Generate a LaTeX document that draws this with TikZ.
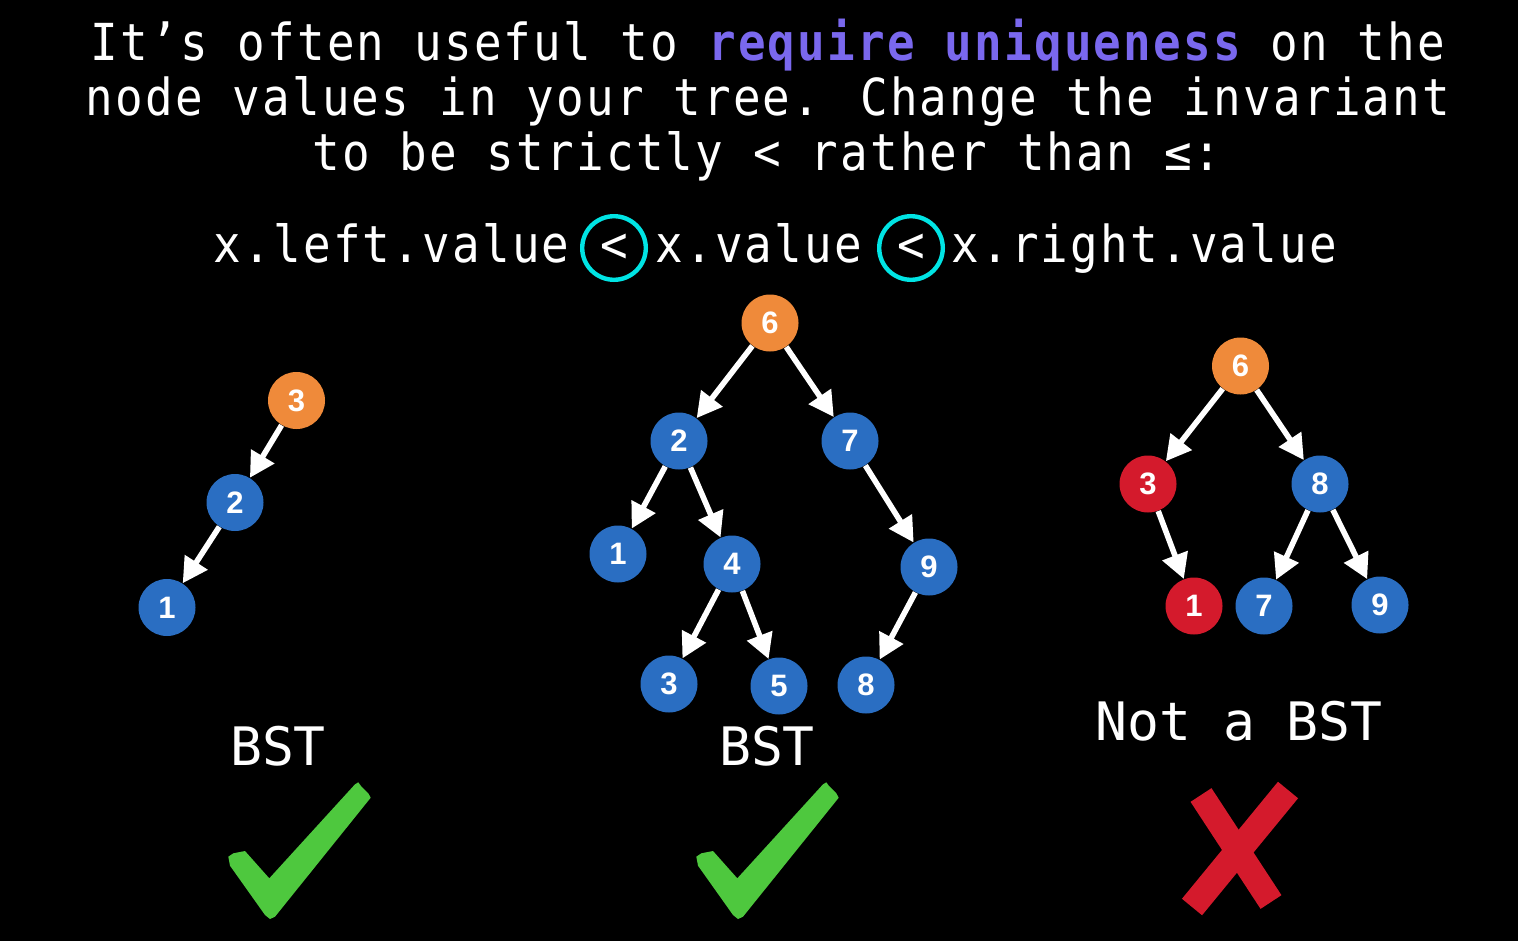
\documentclass[tikz,border=0pt]{standalone}
\usepackage{fontspec}
\usetikzlibrary{arrows.meta}
\newfontfamily\monoc[FakeStretch=0.9,LetterSpace=4.3]{DejaVu Sans Mono}
\newfontfamily\monon{DejaVu Sans Mono}
\newfontfamily\helv{Liberation Sans}
\definecolor{orng}{RGB}{239,138,58}
\definecolor{blu}{RGB}{42,110,194}
\definecolor{rd}{RGB}{212,26,44}
\definecolor{grn}{RGB}{78,200,62}
\definecolor{purp}{RGB}{122,104,238}
\definecolor{cyn}{RGB}{0,228,228}
\tikzset{
 tn/.style={circle, minimum size=28.5pt, inner sep=0pt, text=white, font=\helv\bfseries\fontsize{15.5}{17}\selectfont},
 ob/.style={tn, fill=orng}, bb/.style={tn, fill=blu}, rb/.style={tn, fill=rd},
 edgearrow/.style={draw=white, line width=2.8pt, -{Triangle[length=12.5pt,width=13pt]}},
 titletext/.style={text=white, inner sep=0pt, font=\monoc\fontsize{25.5}{28}\selectfont},
 lbl/.style={text=white, anchor=base, inner sep=0pt, font=\monon\fontsize{26.5}{30}\selectfont},
 ring/.style={draw=cyn, line width=2.2pt, circle, minimum size=31.8pt, inner sep=0pt, text=white, font=\monoc\fontsize{25.5}{28}\selectfont},
}
\begin{document}
\begin{tikzpicture}[x=0.5pt,y=-0.5pt]
\fill[black] (0,0) rectangle (1518,941);
\useasboundingbox (0,0) rectangle (1518,941);
% title
\node[titletext, anchor=base] (t1) at (768,61) {It’s often useful to {\color{purp}\bfseries require uniqueness} on the};
\node[titletext, anchor=base] (t2) at (768,116) {node values in your tree. Change the invariant};
\node[titletext, anchor=base] (t3) at (767,171) {to be strictly < rather than ≤:};
% formula
\node[titletext, anchor=base east] (f1) at (570,262) {x.left.value};
\node[ring] (r1) at (614,248) {<};
\node[titletext, anchor=base west] (f2) at (655,262) {x.value};
\node[ring] (r2) at (911,248) {<};
\node[titletext, anchor=base west] (f3) at (951,262) {x.right.value};
% tree 1
\node[ob] (a3) at (296.5,400.5) {3};
\node[bb] (a2) at (235,502.5) {2};
\node[bb] (a1) at (167,607.5) {1};
\draw[edgearrow] (a3) -- (a2);
\draw[edgearrow] (a2) -- (a1);
% tree 2
\node[ob] (b6) at (770,323) {6};
\node[bb] (b2) at (679,441) {2};
\node[bb] (b7) at (850,441) {7};
\node[bb] (b1) at (618,554) {1};
\node[bb] (b4) at (732,564) {4};
\node[bb] (b9) at (929,567) {9};
\node[bb] (b3) at (669,684) {3};
\node[bb] (b5) at (779,686) {5};
\node[bb] (b8) at (866,685) {8};
\draw[edgearrow] (b6) -- (b2);
\draw[edgearrow] (b6) -- (b7);
\draw[edgearrow] (b2) -- (b1);
\draw[edgearrow] (b2) -- (b4);
\draw[edgearrow] (b4) -- (b3);
\draw[edgearrow] (b4) -- (b5);
\draw[edgearrow] (b7) -- (b9);
\draw[edgearrow] (b9) -- (b8);
% tree 3
\node[ob] (c6) at (1240.5,366) {6};
\node[rb] (c3) at (1148,484) {3};
\node[bb] (c8) at (1320,484) {8};
\node[rb] (c1) at (1194,606) {1};
\node[bb] (c7) at (1264,606) {7};
\node[bb] (c9) at (1380,605) {9};
\draw[edgearrow] (c6) -- (c3);
\draw[edgearrow] (c6) -- (c8);
\draw[edgearrow] (c3) -- (c1);
\draw[edgearrow] (c8) -- (c7);
\draw[edgearrow] (c8) -- (c9);
% labels
\node[lbl] (l1) at (278,765) {BST};
\node[lbl] (l2) at (767,765) {BST};
\node[lbl] (l3) at (1239,740) {Not a BST};
% check marks
\foreach \dx in {0,468}{
\fill[grn, xshift=\dx*0.5pt] (228.3,856.7) -- (233.3,853.3) -- (245,851) -- (269.3,878.3) -- (355,784.3) -- (358.3,782.3) -- (361,786) -- (368.3,793.3) -- (370.7,797.7) -- (275,916.7) -- (270,919) -- (265,915) -- (230,865.7) -- cycle;
}
% cross
\draw[rd, line width=13pt] (1288,790) -- (1192,907);
\draw[rd, line width=12.5pt] (1201,795) -- (1271,902);
\end{tikzpicture}
\end{document}
